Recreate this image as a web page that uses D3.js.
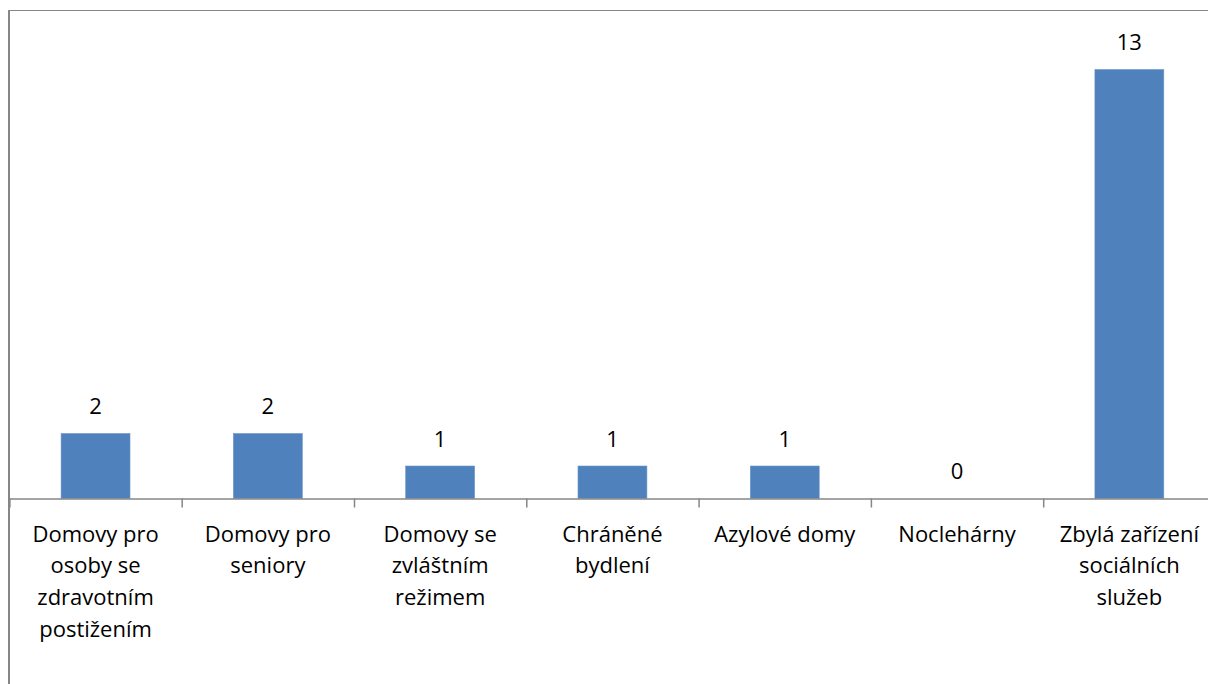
<!DOCTYPE html>
<html>
<head>
<meta charset="utf-8">
<script src="https://cdn.jsdelivr.net/npm/d3@7"></script>
<style>
  html, body { margin: 0; padding: 0; background: #fff; }
  svg { display: block; }
  text { font-family: "Open Sans", sans-serif; fill: #000; }
</style>
</head>
<body>
<svg id="chart" width="1208" height="684"></svg>
<script>
const categories = [
  "Domovy pro osoby se zdravotním postižením",
  "Domovy pro seniory",
  "Domovy se zvláštním režimem",
  "Chráněné bydlení",
  "Azylové domy",
  "Noclehárny",
  "Zbylá zařízení sociálních služeb"
];
const values = [2, 2, 1, 1, 1, 0, 13.2];
const tickLabels = [
  ["Domovy pro", "osoby se", "zdravotním", "postižením"],
  ["Domovy pro", "seniory"],
  ["Domovy se", "zvláštním", "režimem"],
  ["Chráněné", "bydlení"],
  ["Azylové domy"],
  ["Noclehárny"],
  ["Zbylá zařízení", "sociálních", "služeb"]
];

const svg = d3.select("#chart");
const W = 1208, H = 684;
const x0 = 9.4, x1 = 1215.5, baseY = 498.5;
const axisColor = "#868686";
const fontSize = 22;

const x = d3.scaleBand().domain(categories).range([x0, x1])
  .paddingInner(0.6).paddingOuter(0.3);
const xEdge = d3.scaleLinear().domain([0, categories.length]).range([x0, x1]);
const y = d3.scaleLinear().domain([0, 14]).range([baseY, baseY - 14 * 32.5]);

// chart border
svg.append("line").attr("x1", 9).attr("x2", W).attr("y1", 10.5).attr("y2", 10.5)
  .attr("stroke", axisColor).attr("stroke-width", 1);
svg.append("line").attr("x1", 9).attr("x2", 9).attr("y1", 10).attr("y2", H)
  .attr("stroke", axisColor).attr("stroke-width", 2);

// bars
svg.append("g").selectAll("rect").data(values).join("rect")
  .attr("x", (d, i) => x(categories[i]))
  .attr("width", x.bandwidth())
  .attr("y", d => y(d))
  .attr("height", d => y(0) - y(d))
  .attr("fill", "#4F81BD")
  .attr("stroke", "#6D97C9")
  .attr("stroke-width", 0.6);

// axis
const axis = d3.axisBottom(xEdge)
  .tickValues(d3.range(0, categories.length + 1))
  .tickFormat("")
  .tickSize(9)
  .tickSizeOuter(0);
const ag = svg.append("g").attr("transform", `translate(0,${baseY})`).call(axis);
ag.selectAll("path, line").attr("stroke", axisColor).attr("stroke-width", 1.5);

// value labels
svg.append("g").selectAll("text").data(values).join("text")
  .attr("x", (d, i) => x(categories[i]) + x.bandwidth() / 2)
  .attr("y", d => y(d) - 19.5)
  .attr("text-anchor", "middle")
  .attr("font-size", fontSize)
  .text(d => d3.format(".0f")(d));

// category labels
const lab = svg.append("g").selectAll("text").data(tickLabels).join("text")
  .attr("x", (d, i) => x(categories[i]) + x.bandwidth() / 2)
  .attr("y", 541.5)
  .attr("text-anchor", "middle")
  .attr("font-size", fontSize);
lab.selectAll("tspan").data(d => d).join("tspan")
  .attr("x", function () { return this.parentNode.getAttribute("x"); })
  .attr("dy", (d, i) => i === 0 ? 0 : 31.8)
  .text(d => d);
</script>
</body>
</html>
